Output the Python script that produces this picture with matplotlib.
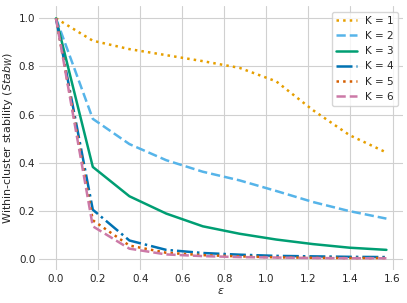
import numpy as np
import matplotlib
matplotlib.use('Agg')
import matplotlib.pyplot as plt
import seaborn as sns

sns.set_style('whitegrid')
plt.rcParams['font.family'] = ['DejaVu Sans']

# 扰动强度 epsilon
eps = [0.0, 0.175, 0.349, 0.524, 0.698, 0.873, 1.047, 1.222, 1.396, 1.571]
# 各 K 的簇内稳定性
k1 = [1.0, 0.907, 0.872, 0.847, 0.822, 0.794, 0.738, 0.618, 0.514, 0.442]
k2 = [1.0, 0.582, 0.477, 0.410, 0.362, 0.326, 0.282, 0.236, 0.198, 0.167]
k3 = [1.0, 0.382, 0.260, 0.188, 0.135, 0.104, 0.080, 0.061, 0.046, 0.037]
k4 = [1.0, 0.204, 0.076, 0.037, 0.024, 0.017, 0.012, 0.010, 0.008, 0.007]
k5 = [1.0, 0.160, 0.055, 0.025, 0.015, 0.010, 0.006, 0.004, 0.003, 0.003]
k6 = [1.0, 0.135, 0.042, 0.018, 0.011, 0.007, 0.005, 0.003, 0.002, 0.002]

labels = ['K = 1', 'K = 2', 'K = 3', 'K = 4', 'K = 5', 'K = 6']
colors = ['#E69F00', '#56B4E9', '#009E73', '#0072B2', '#D55E00', '#CC79A7']
styles = [':', '--', '-', '-.', ':', '--']
series = [k1, k2, k3, k4, k5, k6]

fig = plt.figure(figsize=(4.07, 3.03), dpi=100)
ax = fig.add_axes([0.097, 0.108, 0.893, 0.871])
for y, lab, c, ls in zip(series, labels, colors, styles):
    ax.plot(eps, y, ls=ls, color=c, lw=1.8, label=lab)

for s in ax.spines.values():
    s.set_visible(False)
ax.grid(True, color='#d0d0d0', lw=0.8)
ax.tick_params(labelsize=7.5, length=0, pad=3)
ax.set_xticks([0.0, 0.2, 0.4, 0.6, 0.8, 1.0, 1.2, 1.4, 1.6])
ax.set_xlabel(r'$\epsilon$', fontsize=8, labelpad=1)
ax.set_ylabel(r'Within-cluster stability ($Stab_W$)', fontsize=8, labelpad=3)
ax.legend(loc='upper right', fontsize=7.5, frameon=True, borderaxespad=0.5)

fig.savefig('out.png', dpi=100)
